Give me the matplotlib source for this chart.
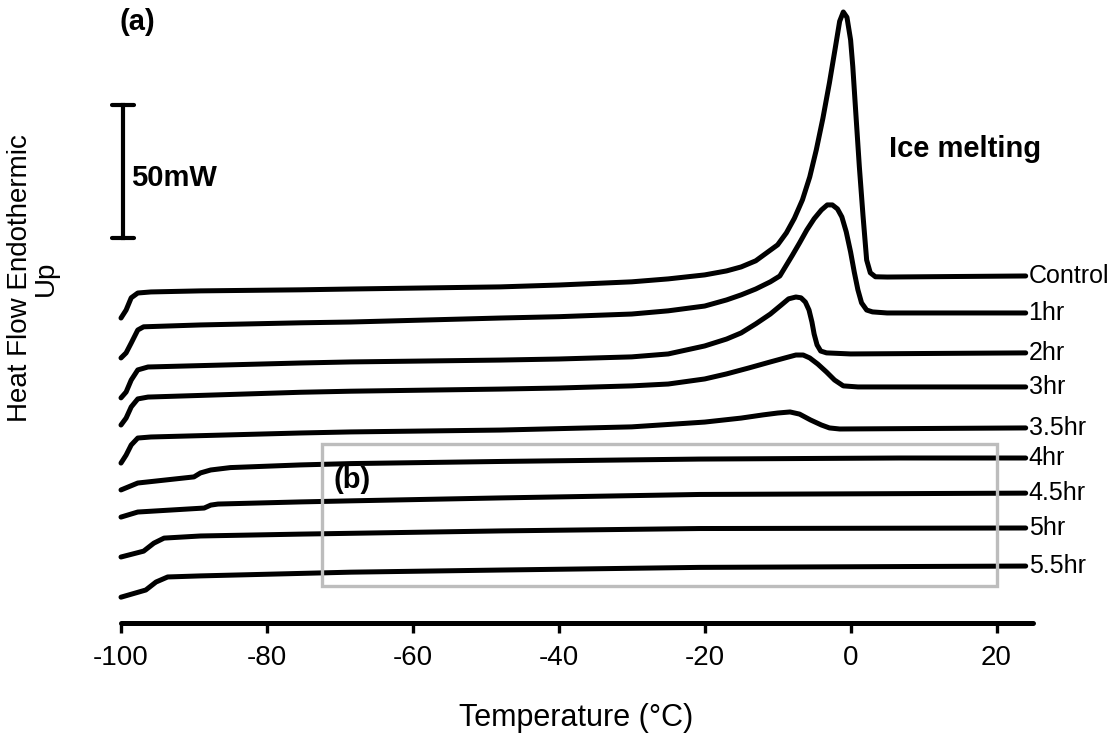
import matplotlib
matplotlib.use("Agg")
import matplotlib.pyplot as plt
from matplotlib.patches import Rectangle

plt.rcParams['font.family'] = ['Liberation Sans', 'DejaVu Sans']

# DSC curves: temperature (C) and heat flow (mW, stacked)
t_control = [-100.0, -99.3, -98.6, -97.7, -95.9, -89.1, -75.4, -68.5, -48.0, -40.0, -30.0, -25.0,
             -20.0, -17.0, -15.0, -13.0, -11.5, -10.0, -8.8, -7.7, -6.6, -5.6, -4.7, -3.8, -2.9,
             -2.1, -1.5, -1.0, -0.5, 0.0, 0.3, 0.75, 1.2, 1.7, 2.2, 2.7, 3.4, 5.0, 24.0]
hf_control = [113.5, 116.5, 121.1, 122.9, 123.3, 123.7, 124.1, 124.4, 125.2, 125.9, 127.1, 128.2,
              129.7, 131.2, 132.7, 135.0, 138.0, 141.0, 145.5, 151.0, 157.9, 166.5, 176.7, 188.5,
              201.9, 215.0, 225.0, 228.5, 226.5, 218.0, 208.0, 189.0, 170.3, 152.0, 135.3, 130.5,
              129.0, 128.9, 129.3]

t_1hr = [-100.0, -99.3, -98.6, -97.7, -96.9, -89.1, -75.4, -68.5, -48.0, -40.0, -30.0, -25.0,
         -20.0, -17.0, -15.0, -13.0, -11.0, -9.7, -8.0, -7.0, -6.0, -5.0, -4.0, -3.2, -2.5, -1.8,
         -1.2, -0.6, 0.0, 0.5, 1.0, 1.5, 2.2, 3.0, 5.0, 24.0]
hf_1hr = [98.5, 100.4, 104.1, 109.0, 110.2, 110.9, 111.7, 112.0, 113.5, 114.0, 115.0, 116.2,
          118.0, 120.3, 122.2, 124.4, 127.1, 129.3, 137.0, 141.7, 146.6, 150.8, 154.1, 156.0,
          156.0, 154.5, 151.5, 145.9, 138.3, 130.8, 124.1, 119.2, 116.5, 115.8, 115.4, 115.4]

t_2hr = [-100.0, -99.3, -98.6, -97.7, -96.3, -75.4, -68.5, -48.0, -40.0, -30.0, -25.0, -20.0,
         -17.0, -15.0, -13.0, -11.0, -9.5, -8.5, -7.5, -6.8, -6.2, -5.7, -5.3, -5.0, -4.6, -4.1,
         -3.3, 0.0, 24.0]
hf_2hr = [83.5, 85.7, 90.2, 94.0, 95.1, 96.6, 97.0, 97.7, 98.1, 98.9, 100.0, 103.0,
          105.6, 107.9, 111.3, 115.0, 118.4, 120.7, 121.4, 121.1, 119.5, 116.5, 112.0, 107.5,
          103.4, 101.1, 100.4, 100.0, 100.4]

t_3hr = [-100.0, -99.3, -98.6, -97.7, -96.3, -75.4, -68.5, -48.0, -40.0, -30.0, -25.0, -20.0,
         -17.0, -14.0, -11.0, -9.0, -7.5, -6.5, -5.6, -4.5, -3.3, -2.2, -1.0, 1.0, 24.0]
hf_3hr = [73.3, 75.9, 80.1, 83.1, 83.8, 85.6, 86.0, 86.8, 87.2, 88.0, 88.7, 90.6,
          92.5, 94.7, 97.0, 98.5, 99.6, 99.6, 98.5, 96.2, 93.2, 90.2, 88.0, 87.6, 87.6]

t_35hr = [-100.0, -99.3, -98.6, -97.7, -95.9, -75.4, -68.5, -48.0, -30.0, -20.0, -15.0, -12.0,
          -10.0, -8.3, -7.0, -5.5, -4.0, -2.9, -1.5, 24.0]
hf_35hr = [59.0, 62.0, 65.8, 68.4, 68.8, 70.3, 70.7, 71.4, 72.6, 74.4, 75.9, 77.1,
           77.8, 78.2, 77.4, 75.2, 73.3, 72.2, 71.8, 72.2]

t_4hr = [-100.0, -97.7, -90.0, -89.1, -87.7, -85.0, -75.4, -68.5, -48.0, -20.7, 6.7, 24.0]
hf_4hr = [48.9, 51.5, 53.8, 55.3, 56.4, 57.3, 58.3, 58.8, 59.6, 60.5, 60.9, 60.9]

t_45hr = [-100.0, -97.7, -88.6, -87.7, -86.7, -75.4, -68.5, -48.0, -20.7, 24.0]
hf_45hr = [38.7, 40.6, 42.1, 43.2, 43.6, 44.4, 44.8, 45.9, 47.2, 47.7]

t_5hr = [-100.0, -96.9, -95.5, -94.1, -89.1, -75.4, -48.0, -20.7, 24.0]
hf_5hr = [23.7, 25.9, 28.9, 30.8, 31.6, 32.3, 33.5, 34.4, 34.6]

t_55hr = [-100.0, -96.6, -95.2, -93.6, -89.1, -68.5, -48.0, -20.7, 24.0]
hf_55hr = [8.6, 11.3, 14.3, 16.2, 16.6, 18.0, 18.8, 19.8, 20.3]

labels = ['Control', '1hr', '2hr', '3hr', '3.5hr', '4hr', '4.5hr', '5hr', '5.5hr']
temps = [t_control, t_1hr, t_2hr, t_3hr, t_35hr, t_4hr, t_45hr, t_5hr, t_55hr]
flows = [hf_control, hf_1hr, hf_2hr, hf_3hr, hf_35hr, hf_4hr, hf_45hr, hf_5hr, hf_55hr]

xticks = [-100, -80, -60, -40, -20, 0, 20]

fig = plt.figure(figsize=(11.18, 7.36), dpi=100)
ax = fig.add_axes([121 / 1118, 113 / 736, 912 / 1118, 623 / 736])

for t, hf, lab in zip(temps, flows, labels):
    ax.plot(t, hf, color='black', linewidth=3.6, solid_joinstyle='round',
            solid_capstyle='round', clip_on=False)
    ax.text(t[-1] + 0.4, hf[-1], lab, fontsize=18, ha='left', va='center')

# zoom box (b)
ax.add_patch(Rectangle((-72.4, 12.8), 92.5, 53.4, fill=False, edgecolor='#bdbdbd',
                       linewidth=2.4, zorder=5))
ax.text(-70.9, 52.6, '(b)', fontsize=21, fontweight='bold', ha='left', va='center')

# 50 mW scale bar
ax.plot([-99.7, -99.7], [143.5, 193.5], color='black', linewidth=3, clip_on=False)
for yb in (143.5, 193.5):
    ax.plot([-101.2, -98.2], [yb, yb], color='black', linewidth=3,
            solid_capstyle='round', clip_on=False)
ax.text(-98.6, 166.2, '50mW', fontsize=21, fontweight='bold', ha='left', va='center')

ax.text(-97.8, 224.8, '(a)', fontsize=21, fontweight='bold', ha='center', va='center')
ax.text(5.2, 177.1, 'Ice melting', fontsize=21, fontweight='bold', ha='left', va='center')

ax.set_xlim(-100, 25)
ax.set_ylim(-1.1, 233)
ax.set_xticks(xticks)
ax.set_xticklabels([str(v) for v in xticks])
ax.set_yticks([])
for side in ('top', 'right', 'left'):
    ax.spines[side].set_visible(False)
ax.spines['bottom'].set_linewidth(3.6)
ax.spines['bottom'].set_capstyle('round')
ax.tick_params(axis='x', length=7, width=2.4, labelsize=20, pad=9)
ax.patch.set_alpha(0)

fig.text(576 / 1118, 18 / 736, 'Temperature (\u00b0C)', fontsize=22, ha='center', va='center')
fig.text(33 / 1118, (736 - 278) / 736, 'Heat Flow Endothermic\nUp', fontsize=20,
         rotation=90, ha='center', va='center', multialignment='center', linespacing=1.0)

fig.savefig('out.png', dpi=100)
